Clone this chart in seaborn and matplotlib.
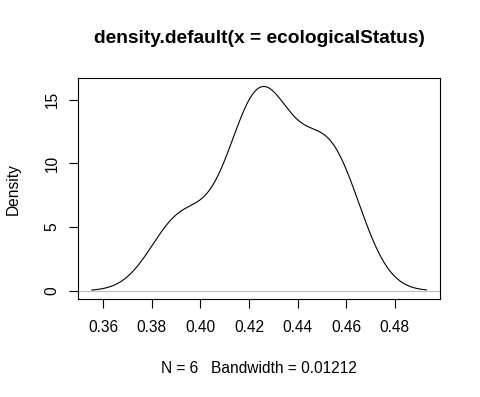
import numpy as np
import pandas as pd
import matplotlib
matplotlib.use("Agg")
import matplotlib.pyplot as plt
import seaborn as sns

# ---- data ----
ecologicalStatus = [0.3916, 0.4175, 0.425, 0.430, 0.450, 0.4568]
bandwidth = 0.01212
x_ticks = [0.36, 0.38, 0.40, 0.42, 0.44, 0.46, 0.48]
x_ticklabels = ["0.36", "0.38", "0.40", "0.42", "0.44", "0.46", "0.48"]
y_ticks = [0, 5, 10, 15]
y_ticklabels = ["0", "5", "10", "15"]
title_text = "density.default(x = ecologicalStatus)"
sub_text = "N = 6   Bandwidth = 0.01212"
ylabel_text = "Density"

df = pd.DataFrame({"ecologicalStatus": ecologicalStatus})

sns.set_style("white")
plt.rcParams["font.family"] = ["Liberation Sans", "DejaVu Sans"]
plt.rcParams["text.color"] = "black"
plt.rcParams["axes.labelcolor"] = "black"
plt.rcParams["xtick.color"] = "black"
plt.rcParams["ytick.color"] = "black"

W, H = 481, 397
fig = plt.figure(figsize=(W / 100, H / 100), dpi=100)
left, right, top, bottom = 78.3, 440.0, 78.3, 299.0
ax = fig.add_axes([left / W, 1 - bottom / H, (right - left) / W, (bottom - top) / H])

factor = bandwidth / np.std(df["ecologicalStatus"], ddof=1)
sns.kdeplot(data=df, x="ecologicalStatus", bw_method=factor, cut=3,
            gridsize=512, color="black", linewidth=0.8, ax=ax, zorder=3)
ax.axhline(0, color="#BEBEBE", linewidth=0.8, zorder=2)

# R-style axis ranges: data range extended by 4% on each side
line = ax.lines[0]
xd, yd = line.get_xdata(), line.get_ydata()
xr = xd.max() - xd.min()
ax.set_xlim(xd.min() - 0.04 * xr, xd.max() + 0.04 * xr)
yr = yd.max() - 0.0
ax.set_ylim(0 - 0.04 * yr, yd.max() + 0.04 * yr)

for s in ax.spines.values():
    s.set_visible(True)
    s.set_color("black")
    s.set_linewidth(0.8)

fs = 11.2
ax.set_xticks(x_ticks)
ax.set_xticklabels(x_ticklabels)
ax.set_yticks(y_ticks)
ax.set_yticklabels(y_ticklabels)
ax.tick_params(axis="both", direction="out", length=6.4, width=0.8,
               colors="black", labelcolor="black", labelsize=fs,
               bottom=True, left=True)
ax.tick_params(axis="x", pad=8.6)
ax.tick_params(axis="y", pad=7.0)
plt.setp(ax.get_yticklabels(), rotation=90, va="center", ha="right")

ax.set_xlabel(sub_text, fontsize=fs, color="black")
ax.xaxis.label.set_va("baseline")
ax.xaxis.set_label_coords(0.5, -(373.3 - bottom) / (bottom - top))
ax.set_ylabel(ylabel_text, fontsize=fs, color="black")
ax.yaxis.label.set_va("baseline")
ax.yaxis.set_label_coords(-(left - 17.7) / (right - left), 0.5)

fig.text((left + right) / 2 / W, 1 - 42.7 / H, title_text, ha="center",
         va="baseline", fontsize=13.8, fontweight="bold", color="black")

fig.savefig("out.png", dpi=100)
